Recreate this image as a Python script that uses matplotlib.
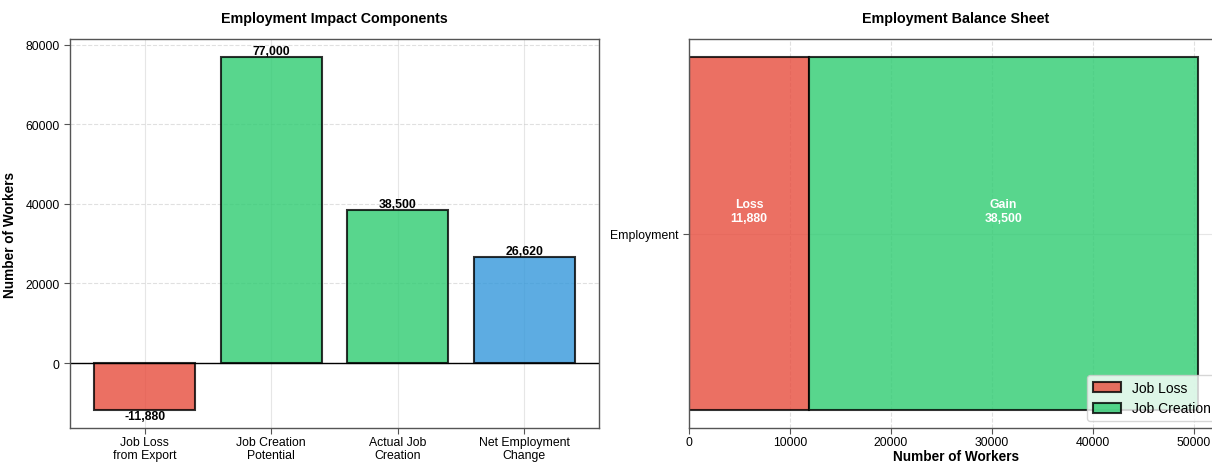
import matplotlib
matplotlib.use("Agg")
import matplotlib.pyplot as plt

plt.rcParams['font.family'] = ['Liberation Sans', 'DejaVu Sans']

categories = ['Job Loss\nfrom Export\nDecline', 'Job Creation\nPotential', 'Actual Job\nCreation\n(50% rate)', 'Net Employment\nChange']
values = [-11880, 77000, 38500, 26620]
colors = ['#e74c3c', '#2ecc71', '#2ecc71', '#3498db']

balance_label = ['Employment']
loss_value = [11880]
gain_value = [38500]

fig = plt.figure(figsize=(12.12, 4.64), dpi=100)
W, H = 1212, 464
ax1 = fig.add_axes([70 / W, (H - 429) / H, (599 - 70) / W, 389 / H])
ax2 = fig.add_axes([689 / W, (H - 429) / H, 534 / W, 389 / H])

for ax in (ax1, ax2):
    for s in ax.spines.values():
        s.set_color('#555555')
        s.set_linewidth(1.0)
    ax.tick_params(labelsize=8.8, length=4, color='#555555')
    ax.tick_params(axis='x', pad=1.5)
    ax.set_axisbelow(True)

# Left panel
x = range(len(categories))
bars = ax1.bar(x, values, color=colors, alpha=0.8, edgecolor='black', linewidth=1.5, width=0.8)
ax1.axhline(0, color='black', linewidth=1)
for b, v in zip(bars, values):
    if v >= 0:
        ax1.text(b.get_x() + b.get_width() / 2, v, f'{v:,}', ha='center', va='bottom',
                 fontsize=8.8, fontweight='bold')
    else:
        ax1.text(b.get_x() + b.get_width() / 2, v, f'{v:,}', ha='center', va='top',
                 fontsize=8.8, fontweight='bold')
ax1.set_xticks(list(x))
ax1.set_xticklabels(categories, fontsize=8.8, linespacing=1.13)
ax1.set_ylabel('Number of Workers', fontsize=9.8, fontweight='bold', labelpad=6)
ax1.set_title('Employment Impact Components', fontsize=10.3, fontweight='bold', pad=12)
ax1.grid(axis='x', color='#e6e6e6', linewidth=0.8)
ax1.grid(axis='y', color='#cccccc', linestyle='--', alpha=0.6, linewidth=0.8)

# Right panel
ax2.barh(balance_label, loss_value, color='#e74c3c', alpha=0.8, edgecolor='black',
         linewidth=1.5, label='Job Loss')
ax2.barh(balance_label, gain_value, left=loss_value, color='#2ecc71', alpha=0.8,
         edgecolor='black', linewidth=1.5, label='Job Creation')
ax2.text(loss_value[0] / 2, 0.05, f'Loss\n{loss_value[0]:,}', ha='center', va='center',
         color='white', fontsize=8.8, fontweight='bold')
ax2.text(loss_value[0] + gain_value[0] / 2, 0.05, f'Gain\n{gain_value[0]:,}', ha='center',
         va='center', color='white', fontsize=8.8, fontweight='bold')
ax2.set_xlabel('Number of Workers', fontsize=9.8, fontweight='bold', labelpad=1)
ax2.set_title('Employment Balance Sheet', fontsize=10.3, fontweight='bold', pad=12)
ax2.grid(axis='x', color='#cccccc', linestyle='--', alpha=0.6, linewidth=0.8)
ax2.grid(axis='y', color='#e6e6e6', linewidth=0.8)
ax2.legend(loc='lower right', fontsize=10)

fig.savefig('out.png', dpi=100)
